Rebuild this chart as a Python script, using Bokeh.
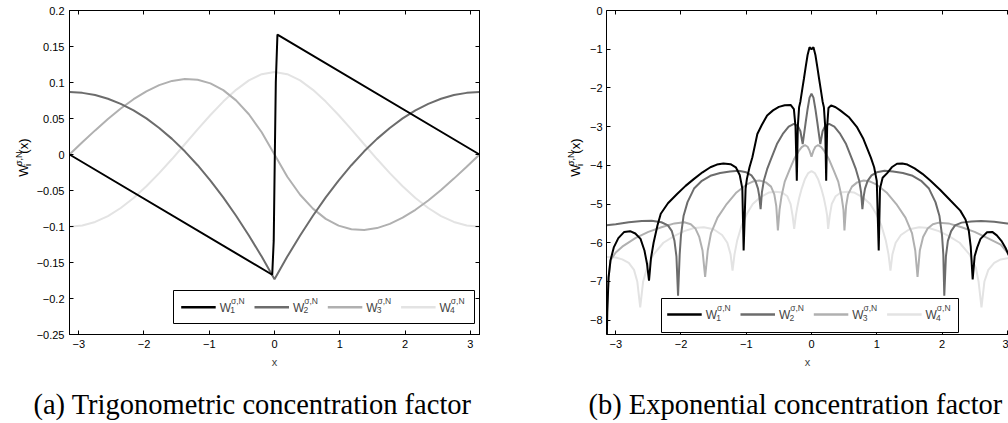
import math
from bokeh.plotting import figure
from bokeh.layouts import row, column
from bokeh.models import Range1d, LinearAxis, FixedTicker, Label, BoxAnnotation
from bokeh.embed import file_html
from bokeh.resources import INLINE

PI = math.pi

# ---------------- (a) trigonometric concentration factor ----------------
trig_x = [-3.1416, -2.9452, -2.7489, -2.5525, -2.3562, -2.1598, -1.9635, -1.7671,
          -1.5708, -1.3744, -1.1781, -0.9817, -0.7854, -0.5890, -0.3927, -0.1963,
          0.0, 0.1963, 0.3927, 0.5890, 0.7854, 0.9817, 1.1781, 1.3744,
          1.5708, 1.7671, 1.9635, 2.1598, 2.3562, 2.5525, 2.7489, 2.9452, 3.1416]
trig_w2 = [0.0867, 0.0856, 0.0826, 0.0775, 0.0704, 0.0613, 0.0501, 0.0369,
           0.0217, 0.0044, -0.0149, -0.0362, -0.0596, -0.0850, -0.1124, -0.1418,
           -0.1733, -0.1418, -0.1124, -0.0850, -0.0596, -0.0362, -0.0149, 0.0044,
           0.0217, 0.0369, 0.0501, 0.0613, 0.0704, 0.0775, 0.0826, 0.0856, 0.0867]
trig_w3 = [0.0, 0.0170, 0.0335, 0.0493, 0.0639, 0.0768, 0.0878, 0.0964,
           0.1022, 0.1048, 0.1038, 0.0988, 0.0894, 0.0752, 0.0559, 0.0309,
           0.0, -0.0309, -0.0559, -0.0752, -0.0894, -0.0988, -0.1038, -0.1048,
           -0.1022, -0.0964, -0.0878, -0.0768, -0.0639, -0.0493, -0.0335, -0.0170, 0.0]
trig_w4 = [-0.1003, -0.0987, -0.0937, -0.0855, -0.0743, -0.0604, -0.0441, -0.0259,
           -0.0063, 0.0142, 0.0348, 0.0549, 0.0735, 0.0898, 0.1029, 0.1115,
           0.1147, 0.1115, 0.1029, 0.0898, 0.0735, 0.0549, 0.0348, 0.0142,
           -0.0063, -0.0259, -0.0441, -0.0604, -0.0743, -0.0855, -0.0937, -0.0987, -0.1003]
trig_w1_x = [-3.1416, -0.035, -0.012, 0.005, 0.02, 0.045, 3.1416]
trig_w1_y = [0.0, -0.167, -0.12, 0.0, 0.1, 0.1665, 0.0]

# ---------------- (b) exponential concentration factor (log scale values) ----------------
exp_w1_x = [-3.1416, -3.13, -3.11, -3.08, -3.03, -2.96, -2.87, -2.78, -2.70, -2.62, -2.56, -2.52,
            -2.49, -2.46, -2.42, -2.36, -2.31, -2.2, -2.06, -1.93, -1.8, -1.67, -1.55, -1.45,
            -1.35, -1.24, -1.16, -1.1, -1.06, -1.04, -1.01, -0.99, -0.95, -0.906, -0.83, -0.76,
            -0.68, -0.59, -0.50, -0.41, -0.32, -0.27, -0.245, -0.225, -0.21, -0.19, -0.17, -0.14,
            -0.115, -0.09, -0.06, -0.03, 0.0, 0.03, 0.06, 0.09, 0.115, 0.14, 0.17, 0.19,
            0.21, 0.225, 0.24, 0.26, 0.3, 0.37, 0.44, 0.57, 0.70, 0.79, 0.85, 0.91,
            0.96, 1.0, 1.03, 1.05, 1.09, 1.16, 1.23, 1.31, 1.39, 1.47, 1.58, 1.7,
            1.82, 1.97, 2.13, 2.28, 2.36, 2.41, 2.44, 2.47, 2.5, 2.54, 2.59, 2.69,
            2.77, 2.84, 2.91, 2.97, 3.03, 3.08, 3.11, 3.13, 3.1416]
exp_w1_y = [-9.0, -7.8, -6.9, -6.45, -6.12, -5.88, -5.72, -5.70, -5.76, -5.9, -6.2, -6.55,
            -6.98, -6.4, -6.0, -5.55, -5.25, -4.98, -4.74, -4.53, -4.35, -4.18, -4.05, -3.98,
            -3.95, -3.97, -4.05, -4.25, -4.6, -6.2, -4.6, -4.35, -4.05, -3.79, -3.19, -2.95,
            -2.71, -2.58, -2.49, -2.45, -2.44, -2.55, -3.0, -4.4, -3.0, -2.5, -2.35, -2.02,
            -1.75, -1.47, -1.15, -0.95, -1.0, -0.95, -1.15, -1.47, -1.75, -2.02, -2.35, -2.5,
            -3.0, -4.4, -3.0, -2.52, -2.45, -2.5, -2.58, -2.75, -3.02, -3.3, -3.55, -3.8,
            -4.05, -4.4, -6.2, -4.6, -4.32, -4.2, -4.05, -3.96, -3.95, -3.98, -4.08, -4.22,
            -4.39, -4.63, -4.91, -5.17, -5.4, -5.68, -6.1, -6.95, -6.35, -6.12, -5.9, -5.73,
            -5.72, -5.81, -5.95, -6.12, -6.35, -6.7, -7.1, -7.8, -9.0]

exp_w2_x = [-3.1416, -3.0, -2.8, -2.6, -2.45, -2.3, -2.2, -2.14, -2.1, -2.07, -2.045, -2.02,
            -2.0, -1.96, -1.9, -1.8, -1.68, -1.55, -1.4, -1.25, -1.12, -1.0, -0.92, -0.86,
            -0.82, -0.8, -0.78, -0.76, -0.73, -0.68, -0.63, -0.53, -0.44, -0.35, -0.27, -0.21,
            -0.17, -0.135, -0.11, -0.09, -0.06, -0.03, 0.0, 0.03, 0.06, 0.09, 0.11, 0.135,
            0.17, 0.21, 0.27, 0.35, 0.44, 0.53, 0.63, 0.68, 0.73, 0.76, 0.78, 0.8,
            0.82, 0.86, 0.92, 1.0, 1.12, 1.25, 1.4, 1.55, 1.68, 1.8, 1.9, 1.96,
            2.0, 2.02, 2.035, 2.06, 2.09, 2.14, 2.2, 2.3, 2.45, 2.6, 2.8, 3.0, 3.1416]
exp_w2_y = [-5.55, -5.52, -5.47, -5.44, -5.43, -5.47, -5.55, -5.7, -5.95, -6.35, -7.37, -6.3,
            -5.8, -5.3, -4.95, -4.6, -4.4, -4.27, -4.2, -4.16, -4.14, -4.18, -4.26, -4.4,
            -4.6, -4.8, -5.13, -4.7, -4.39, -4.1, -3.88, -3.45, -3.19, -3.0, -2.93, -2.98,
            -3.12, -3.45, -3.15, -2.9, -2.55, -2.25, -2.15, -2.25, -2.55, -2.9, -3.15, -3.45,
            -3.12, -2.98, -2.93, -3.0, -3.19, -3.45, -3.88, -4.1, -4.39, -4.7, -5.13, -4.8,
            -4.6, -4.4, -4.26, -4.18, -4.14, -4.16, -4.2, -4.27, -4.4, -4.6, -4.95, -5.3,
            -5.8, -6.3, -7.37, -6.35, -5.95, -5.7, -5.55, -5.48, -5.45, -5.44, -5.46, -5.5, -5.52]

exp_w3_x = [-3.1416, -3.13, -3.11, -3.08, -3.0, -2.9, -2.7, -2.5, -2.3, -2.1, -1.95, -1.85,
            -1.78, -1.72, -1.67, -1.63, -1.59, -1.54, -1.44, -1.3, -1.15, -1.0, -0.9, -0.8,
            -0.7, -0.62, -0.57, -0.54, -0.515, -0.49, -0.46, -0.41, -0.34, -0.27, -0.2, -0.15,
            -0.1, -0.06, -0.03, 0.0, 0.03, 0.06, 0.1, 0.15, 0.2, 0.27, 0.34, 0.41,
            0.46, 0.49, 0.505, 0.53, 0.56, 0.62, 0.7, 0.8, 0.9, 1.0, 1.15, 1.3,
            1.44, 1.54, 1.59, 1.625, 1.66, 1.71, 1.78, 1.86, 1.95, 2.1, 2.3, 2.5,
            2.7, 2.9, 3.0, 3.08, 3.11, 3.13, 3.1416]
exp_w3_y = [-9.0, -7.6, -6.9, -6.45, -6.25, -6.1, -5.88, -5.72, -5.6, -5.5, -5.47, -5.52,
            -5.63, -5.85, -6.2, -6.88, -6.2, -5.75, -5.35, -5.0, -4.7, -4.5, -4.42, -4.39,
            -4.44, -4.55, -4.75, -5.05, -5.68, -5.15, -4.8, -4.42, -4.13, -3.85, -3.64, -3.53,
            -3.48, -3.52, -3.62, -3.78, -3.62, -3.52, -3.48, -3.53, -3.64, -3.85, -4.13, -4.42,
            -4.8, -5.15, -5.68, -5.05, -4.75, -4.55, -4.44, -4.39, -4.42, -4.5, -4.7, -5.0,
            -5.35, -5.75, -6.2, -6.88, -6.2, -5.85, -5.63, -5.52, -5.48, -5.5, -5.6, -5.72,
            -5.88, -6.05, -6.25, -6.45, -6.9, -7.6, -9.0]

exp_w4_x = [-3.1416, -3.0, -2.9, -2.8, -2.72, -2.67, -2.625, -2.58, -2.52, -2.42, -2.27, -2.1,
            -1.95, -1.8, -1.65, -1.5, -1.37, -1.29, -1.24, -1.21, -1.18, -1.14, -1.07, -0.99,
            -0.9, -0.78, -0.65, -0.55, -0.45, -0.37, -0.32, -0.29, -0.265, -0.24, -0.22, -0.19,
            -0.15, -0.1, -0.05, 0.0, 0.05, 0.1, 0.15, 0.19, 0.22, 0.24, 0.255, 0.28,
            0.31, 0.37, 0.45, 0.55, 0.65, 0.78, 0.9, 0.99, 1.07, 1.14, 1.18, 1.21,
            1.24, 1.29, 1.37, 1.5, 1.65, 1.8, 1.95, 2.1, 2.27, 2.42, 2.52, 2.56,
            2.605, 2.65, 2.71, 2.8, 2.9, 3.0, 3.1416]
exp_w4_y = [-6.37, -6.38, -6.43, -6.52, -6.7, -7.0, -7.67, -7.0, -6.65, -6.3, -6.0, -5.82,
            -5.7, -5.62, -5.6, -5.65, -5.8, -6.0, -6.3, -6.72, -6.3, -5.95, -5.55, -5.25,
            -5.0, -4.82, -4.7, -4.68, -4.7, -4.8, -5.0, -5.3, -5.64, -5.3, -5.1, -4.85,
            -4.6, -4.35, -4.2, -4.15, -4.2, -4.35, -4.6, -4.85, -5.1, -5.3, -5.64, -5.3,
            -5.0, -4.8, -4.7, -4.68, -4.7, -4.82, -5.0, -5.25, -5.55, -5.95, -6.3, -6.72,
            -6.3, -6.0, -5.8, -5.65, -5.6, -5.62, -5.7, -5.82, -6.0, -6.3, -6.65, -7.0,
            -7.67, -7.0, -6.7, -6.52, -6.43, -6.4, -6.42]

# ---------------- ticks / labels ----------------
x_ticks = [-3, -2, -1, 0, 1, 2, 3]
x_tick_labels = ["\u22123", "\u22122", "\u22121", "0", "1", "2", "3"]
trig_y_ticks = [0.2, 0.15, 0.1, 0.05, 0, -0.05, -0.1, -0.15, -0.2, -0.25]
trig_y_tick_labels = ["0.2", "0.15", "0.1", "0.05", "0", "\u22120.05", "\u22120.1",
                      "\u22120.15", "\u22120.2", "\u22120.25"]
exp_y_ticks = [0, -1, -2, -3, -4, -5, -6, -7, -8]
exp_y_tick_labels = ["0", "\u22121", "\u22122", "\u22123", "\u22124", "\u22125", "\u22126",
                     "\u22127", "\u22128"]
series_subscripts = ["1", "2", "3", "4"]
series_colors = ["#000000", "#6c6c6c", "#b0b0b0", "#e3e3e3"]
captions = ["(a) Trigonometric concentration factor", "(b) Exponential concentration factor"]

SANS = "Liberation Sans"
SERIF = "Liberation Serif"
ROW_H = 378          # plots row height
CAP_H = 423 - ROW_H  # caption strip height
TOP = 10
FRAME_H = 324
PPX = 410 / (2 * PI)


def pixel_fig(w, h):
    p = figure(width=w, height=h, x_range=Range1d(0, w), y_range=Range1d(0, h),
               x_axis_type=None, y_axis_type=None, min_border=0, toolbar_location=None,
               output_backend="svg", outline_line_color=None)
    p.grid.visible = False
    return p


def make_panel(fig_left_abs, fig_w, frame_left_abs, frame_w, y_lo, y_hi, yticks, ylabels,
               right_axis, y_standoff):
    x_end = -PI + frame_w / PPX
    ppy = FRAME_H / (y_hi - y_lo)
    p = figure(width=fig_w, height=ROW_H, x_range=Range1d(-PI, x_end),
               y_range=Range1d(y_lo, y_hi), output_backend="svg", toolbar_location=None,
               min_border_left=frame_left_abs - fig_left_abs,
               min_border_right=fig_w - (frame_left_abs - fig_left_abs) - frame_w,
               min_border_top=TOP, min_border_bottom=ROW_H - TOP - FRAME_H)
    p.grid.visible = False
    p.outline_line_color = "black" if right_axis else None

    def X(px):
        return -PI + (px - frame_left_abs) / PPX

    def Y(py):
        return y_hi - (py - TOP) / ppy

    xa = p.xaxis[0]
    xa.ticker = FixedTicker(ticks=x_ticks)
    xa.major_label_overrides = dict(zip(x_ticks, x_tick_labels))
    ya = p.yaxis[0]
    ya.ticker = FixedTicker(ticks=yticks)
    ya.major_label_overrides = dict(zip(yticks, ylabels))
    for ax in (xa, ya):
        ax.major_tick_in = 4
        ax.major_tick_out = 0
        ax.minor_tick_line_color = None
        ax.axis_line_color = "black"
        ax.major_tick_line_color = "black"
        ax.major_label_text_font = SANS
        ax.major_label_text_font_size = "11px"
        ax.major_label_text_color = "black"
    xa.major_label_standoff = 5
    ya.major_label_standoff = y_standoff
    xa.axis_label = "x"
    xa.axis_label_text_font = SANS
    xa.axis_label_text_font_size = "11px"
    xa.axis_label_text_font_style = "normal"
    xa.axis_label_standoff = 5

    top = LinearAxis(ticker=FixedTicker(ticks=x_ticks), major_tick_in=4, major_tick_out=0,
                     minor_tick_line_color=None, major_label_text_font_size="0px",
                     major_label_standoff=0, axis_line_color="black",
                     major_label_overrides={t: "" for t in x_ticks})
    p.add_layout(top, "above")
    if right_axis:
        rgt = LinearAxis(ticker=FixedTicker(ticks=yticks), major_tick_in=4, major_tick_out=0,
                         minor_tick_line_color=None, major_label_text_font_size="0px",
                         major_label_standoff=0, axis_line_color="black",
                         major_label_overrides={t: "" for t in yticks})
        p.add_layout(rgt, "right")
    return p, X, Y


def ylabel_fig(fig_left_abs, w, base_px, start_py):
    p = pixel_fig(w, ROW_H)
    a = PI / 2

    def lab(px, py, text, size):
        p.add_layout(Label(x=px - fig_left_abs, y=ROW_H - py, text=text, angle=a,
                           text_font=SANS, text_font_size=size, text_baseline="alphabetic",
                           text_align="left", text_color="black"))
    lab(base_px, start_py, "W", "13px")
    s = start_py - 12.5
    lab(base_px - 5, s, "\u03c3,N", "9px")
    lab(base_px + 4, s, "i", "9px")
    lab(base_px, s - 14.5, "(x)", "13px")
    return p


def add_legend(p, X, Y, box, first_px, sample_py):
    l, r, t, b = box
    p.add_layout(BoxAnnotation(left=X(l), right=X(r), top=Y(t), bottom=Y(b),
                               fill_color="white", fill_alpha=1.0, line_color="black",
                               line_width=1, line_alpha=1.0))
    step = 73.3
    x0 = [X(first_px + i * step) for i in range(4)]
    x1 = [X(first_px + i * step + 34.5) for i in range(4)]
    yy = [Y(sample_py)] * 4
    seg = p.segment(x0=x0, y0=yy, x1=x1, y1=yy, line_color=series_colors, line_width=2.5)
    seg.level = "overlay"
    for i, sub in enumerate(series_subscripts):
        wx = first_px + i * step + 38.5
        p.add_layout(Label(x=X(wx), y=Y(sample_py + 0.8), text="W", text_font=SANS,
                           text_font_size="12px", text_baseline="alphabetic",
                           text_align="left", level="overlay"))
        p.add_layout(Label(x=X(wx + 11.2), y=Y(sample_py - 6.5), text="\u03c3,N",
                           text_font=SANS, text_font_size="8.5px",
                           text_baseline="alphabetic", text_align="left", level="overlay"))
        p.add_layout(Label(x=X(wx + 10.5), y=Y(sample_py + 3), text=sub, text_font=SANS,
                           text_font_size="8.5px", text_baseline="alphabetic",
                           text_align="left", level="overlay"))


# ---------------- panel (a) ----------------
ya_fig = ylabel_fig(0, 32, 23, 194)
pa, Xa, Ya = make_panel(32, 505, 69, 410, -0.25, 0.2, trig_y_ticks, trig_y_tick_labels,
                        True, 5)
for xs, ys, c in [(trig_x, trig_w4, series_colors[3]), (trig_x, trig_w3, series_colors[2]),
                  (trig_x, trig_w2, series_colors[1]), (trig_w1_x, trig_w1_y, series_colors[0])]:
    pa.line(xs, ys, line_color=c, line_width=2)
add_legend(pa, Xa, Ya, (173, 474, 290, 323), 180.7, 306.7)

# ---------------- panel (b) ----------------
yb_fig = ylabel_fig(537, 49, 575, 194)
pb, Xb, Yb = make_panel(586, 422, 606, 402, -8.37, 0.0, exp_y_ticks, exp_y_tick_labels,
                        False, 4)
for xs, ys, c in [(exp_w4_x, exp_w4_y, series_colors[3]), (exp_w3_x, exp_w3_y, series_colors[2]),
                  (exp_w2_x, exp_w2_y, series_colors[1]), (exp_w1_x, exp_w1_y, series_colors[0])]:
    pb.line(xs, ys, line_color=c, line_width=2)
add_legend(pb, Xb, Yb, (661, 958, 298, 332), 666.7, 314)

# ---------------- captions ----------------
cap = pixel_fig(1008, CAP_H)
cap_base = 404
cap.add_layout(Label(x=252, y=423 - cap_base, text=captions[0], text_font=SERIF,
                     text_font_size="28.5px", text_align="center", text_baseline="alphabetic",
                     text_color="black"))
cap.add_layout(Label(x=588, y=423 - cap_base, text=captions[1], text_font=SERIF,
                     text_font_size="28.5px", text_align="left", text_baseline="alphabetic",
                     text_color="black"))

layout = column(row(ya_fig, pa, yb_fig, pb), cap)
open("out.html", "w").write(file_html(layout, INLINE))
